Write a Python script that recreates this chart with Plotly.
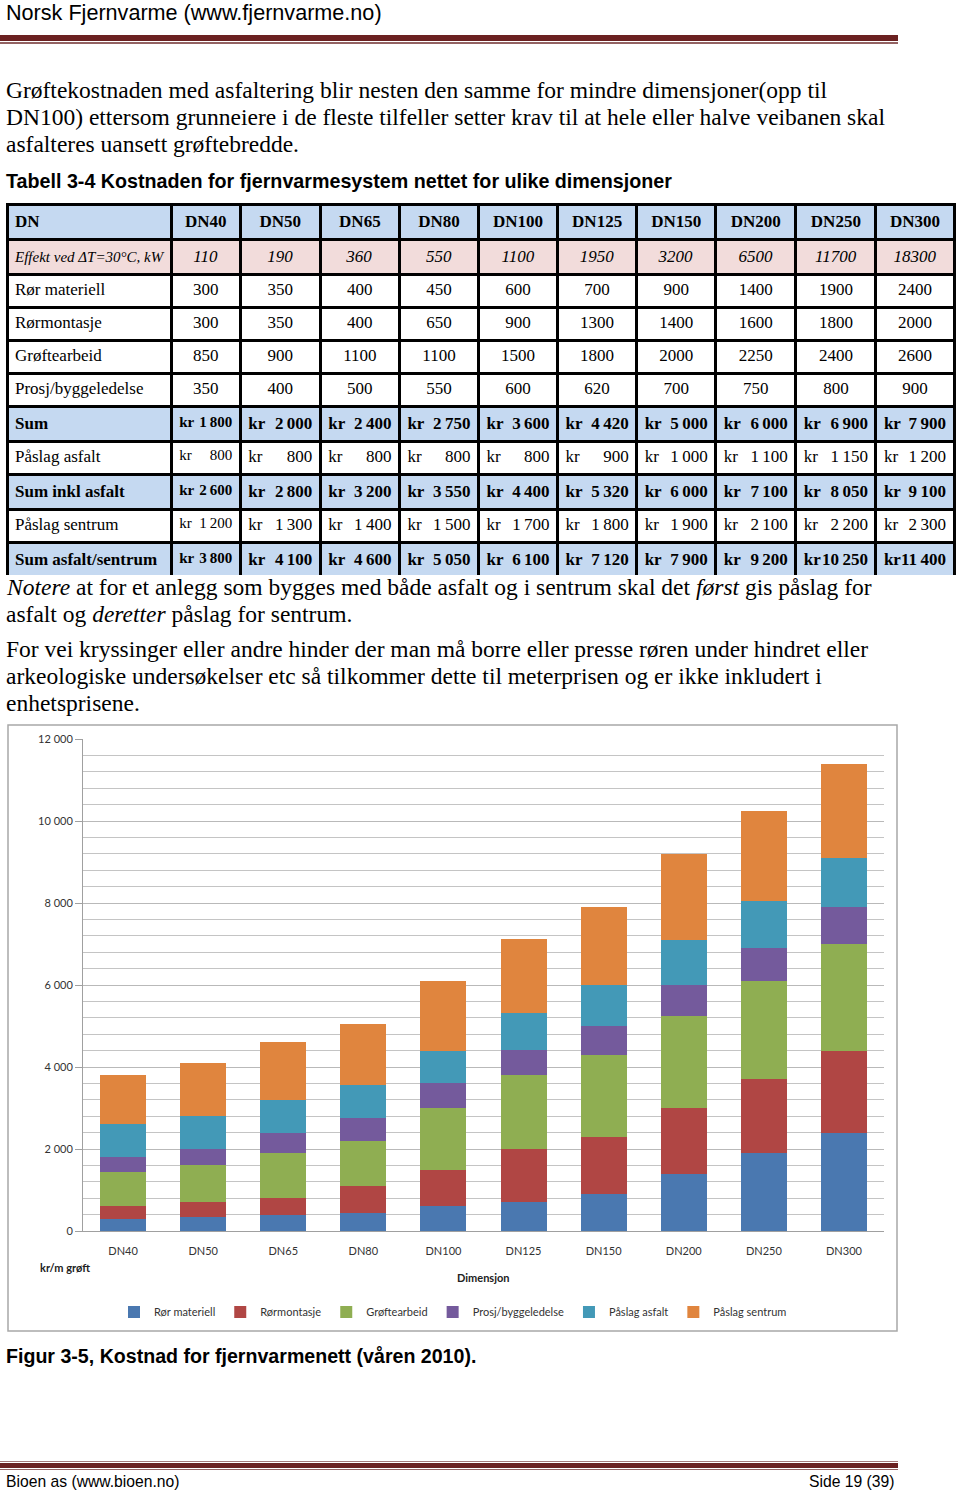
import plotly.graph_objects as go

W, H = 960, 1491

# ---------------- data ----------------
categories = ["DN40", "DN50", "DN65", "DN80", "DN100", "DN125", "DN150", "DN200", "DN250", "DN300"]
effekt_kw = [110, 190, 360, 550, 1100, 1950, 3200, 6500, 11700, 18300]
ror_materiell = [300, 350, 400, 450, 600, 700, 900, 1400, 1900, 2400]
rormontasje = [300, 350, 400, 650, 900, 1300, 1400, 1600, 1800, 2000]
groftearbeid = [850, 900, 1100, 1100, 1500, 1800, 2000, 2250, 2400, 2600]
prosj_byggeledelse = [350, 400, 500, 550, 600, 620, 700, 750, 800, 900]
sum_kr = [1800, 2000, 2400, 2750, 3600, 4420, 5000, 6000, 6900, 7900]
paslag_asfalt = [800, 800, 800, 800, 800, 900, 1000, 1100, 1150, 1200]
sum_inkl_asfalt = [2600, 2800, 3200, 3550, 4400, 5320, 6000, 7100, 8050, 9100]
paslag_sentrum = [1200, 1300, 1400, 1500, 1700, 1800, 1900, 2100, 2200, 2300]
sum_asfalt_sentrum = [3800, 4100, 4600, 5050, 6100, 7120, 7900, 9200, 10250, 11400]

series_names = ["Rør materiell", "Rørmontasje", "Grøftearbeid", "Prosj/byggeledelse",
                "Påslag asfalt", "Påslag sentrum"]
series_values = [ror_materiell, rormontasje, groftearbeid, prosj_byggeledelse,
                 paslag_asfalt, paslag_sentrum]
series_colors = ["#4a78b0", "#b04644", "#8fae52", "#745a9c", "#4399b7", "#e0853e"]

row_labels = ["Effekt ved ΔT=30°C, kW", "Rør materiell", "Rørmontasje", "Grøftearbeid",
              "Prosj/byggeledelse", "Sum", "Påslag asfalt", "Sum inkl asfalt",
              "Påslag sentrum", "Sum asfalt/sentrum"]
row_kinds = ["effekt", "plain", "plain", "plain", "plain", "sum", "kr", "sum", "kr", "sum"]
row_data = [effekt_kw, ror_materiell, rormontasje, groftearbeid, prosj_byggeledelse,
            sum_kr, paslag_asfalt, sum_inkl_asfalt, paslag_sentrum, sum_asfalt_sentrum]

yticks_major = 2000
yticks_minor = 400


def py(p):
    return 1 - p / H


def px(p):
    return p / W


NB = "\u00a0"


def nb(s):
    return s.replace(" ", NB)


def fmt_kr(v):
    return f"{v:,}".replace(",", "\u2009")


fig = go.Figure()

# ---------------- table ----------------
BLUE = "#c5d9f1"
PINK = "#f2dcdb"
CLEAR = "rgba(0,0,0,0)"
colw = [164, 69, 80, 79, 79, 79, 79, 79, 80, 80, 78]
fills_by_kind = {"effekt": PINK, "plain": "white", "sum": BLUE, "kr": "white"}
ncol = len(categories) + 1
nrow = len(row_kinds)
TAB_TOP, TAB_BOT = 204, 575
tab_domain = dict(x=[px(7), px(955)], y=[py(TAB_BOT), py(TAB_TOP)])
OVL_SHIFT = 5  # overlay text sits slightly higher; nudge it down
ovl_domain = dict(x=[px(7), px(955)], y=[py(TAB_BOT + OVL_SHIFT), py(TAB_TOP + OVL_SHIFT)])
TFONT = "Liberation Serif"
TSIZE = 17
col_sizes = [TSIZE, 15] + [TSIZE] * (ncol - 2)
HDR_H = 32
ROW_H = 33
LW = 3

main_cols = []
col0 = []
for lab, kind in zip(row_labels, row_kinds):
    t = nb(lab)
    if kind == "effekt":
        t = ""
    elif kind == "sum":
        t = "<b>" + t + "</b>"
    col0.append(t)
main_cols.append(col0)
for j in range(len(categories)):
    c = []
    for vals, kind in zip(row_data, row_kinds):
        v = vals[j]
        if kind == "effekt":
            c.append(f"<i>{v}</i>")
        elif kind == "plain":
            c.append(f"{v}")
        else:
            c.append("")
    main_cols.append(c)
fills = [[fills_by_kind[k] for k in row_kinds] for _ in range(ncol)]

header_vals = ["<b>DN</b>"] + [f"<b>{c}</b>" for c in categories]
fig.add_trace(go.Table(
    domain=tab_domain,
    columnwidth=colw,
    header=dict(values=header_vals, fill_color=BLUE, align=["left"] + ["center"] * 10,
                font=dict(family=TFONT, size=TSIZE, color="black"),
                height=HDR_H, line=dict(color="black", width=LW)),
    cells=dict(values=main_cols, fill_color=fills, align=["left"] + ["center"] * 10,
               font=dict(family=TFONT, size=TSIZE, color="black"),
               height=ROW_H, line=dict(color="black", width=LW)),
))

left_cols = [["<i>" + nb(row_labels[0]) + "</i>"] + [""] * (nrow - 1)]
for j in range(len(categories)):
    left_cols.append(["<b>kr</b>" if k == "sum" else ("kr" if k == "kr" else "")
                      for k in row_kinds])
fig.add_trace(go.Table(
    domain=ovl_domain,
    columnwidth=colw,
    header=dict(values=[""] * ncol, fill_color=CLEAR, height=HDR_H,
                font=dict(family=TFONT, size=TSIZE),
                line=dict(color=CLEAR, width=LW)),
    cells=dict(values=left_cols, fill_color=CLEAR, align="left",
               font=dict(family=TFONT, size=[15] + col_sizes[1:], color="black"),
               height=ROW_H, line=dict(color=CLEAR, width=LW)),
))

right_cols = [[""] * nrow]
for j in range(len(categories)):
    c = []
    for vals, kind in zip(row_data, row_kinds):
        v = vals[j]
        if kind == "sum":
            c.append(f"<b>{fmt_kr(v)}</b>")
        elif kind == "kr":
            c.append(fmt_kr(v))
        else:
            c.append("")
    right_cols.append(c)
fig.add_trace(go.Table(
    domain=ovl_domain,
    columnwidth=colw,
    header=dict(values=[""] * ncol, fill_color=CLEAR, height=HDR_H,
                font=dict(family=TFONT, size=TSIZE),
                line=dict(color=CLEAR, width=LW)),
    cells=dict(values=right_cols, fill_color=CLEAR, align="right",
               font=dict(family=TFONT, size=col_sizes, color="black"),
               height=ROW_H, line=dict(color=CLEAR, width=LW)),
))

# ---------------- bar chart ----------------
for name, vals, col in zip(series_names, series_values, series_colors):
    fig.add_trace(go.Bar(x=categories, y=vals, name=name, marker_color=col,
                         marker_line_width=0, xaxis="x", yaxis="y"))

CH_FONT = "Lato"
fig.update_layout(
    width=W, height=H, autosize=False,
    margin=dict(l=0, r=0, t=0, b=0),
    paper_bgcolor="white", plot_bgcolor="white",
    separators=", ",
    barmode="stack", bargap=0.425,
    showlegend=True,
    legend=dict(orientation="h", x=px(453), xanchor="center", y=py(1312), yanchor="middle",
                font=dict(family=CH_FONT, size=11, color="#333333"),
                itemwidth=30, traceorder="normal", bgcolor=CLEAR),
    xaxis=dict(domain=[px(83), px(884)], showline=True, linecolor="#a0a0a0", linewidth=1,
               ticks="", showgrid=False, ticklabelstandoff=10, automargin=False,
               tickfont=dict(family=CH_FONT, size=11, color="#333333"), fixedrange=True),
    yaxis=dict(domain=[py(1231), py(739)], range=[0, 12000], dtick=yticks_major,
               tickformat=",d", showline=True, linecolor="#a0a0a0", linewidth=1,
               ticks="outside", ticklen=7, tickcolor="#a0a0a0", automargin=False,
               showgrid=True, gridcolor="#b9b9b9", gridwidth=1, zeroline=False,
               minor=dict(dtick=yticks_minor, showgrid=True, gridcolor="#c4c4c4", gridwidth=1),
               tickfont=dict(family=CH_FONT, size=11, color="#333333"), fixedrange=True),
)

shapes = []
shapes.append(dict(type="rect", xref="paper", yref="paper", x0=px(8), x1=px(897),
                   y0=py(1331), y1=py(725), line=dict(color="#a8a8a8", width=1.5),
                   fillcolor=CLEAR, layer="below"))
shapes.append(dict(type="rect", xref="paper", yref="paper", x0=0, x1=px(898),
                   y0=py(41), y1=py(35), line=dict(width=0), fillcolor="#6b2121"))
shapes.append(dict(type="rect", xref="paper", yref="paper", x0=0, x1=px(898),
                   y0=py(44), y1=py(42), line=dict(width=0), fillcolor="#936262"))
shapes.append(dict(type="rect", xref="paper", yref="paper", x0=0, x1=px(898),
                   y0=py(1462), y1=py(1461), line=dict(width=0), fillcolor="#a57a7a"))
shapes.append(dict(type="rect", xref="paper", yref="paper", x0=0, x1=px(898),
                   y0=py(1468), y1=py(1463), line=dict(width=0), fillcolor="#6b2121"))
shapes.append(dict(type="rect", xref="paper", yref="paper", x0=0, x1=px(898),
                   y0=py(1470), y1=py(1469), line=dict(width=0), fillcolor="#936262"))
fig.update_layout(shapes=shapes)

SERIF = "Liberation Serif"
SANS = "Liberation Sans"
BODY = 23.5


def text(x, y, s, family, size, xanchor="left", color="black"):
    fig.add_annotation(xref="paper", yref="paper", x=px(x), y=py(y), text=s,
                       showarrow=False, xanchor=xanchor, yanchor="middle",
                       font=dict(family=family, size=size, color=color), align="left")


text(4, 12, "Norsk Fjernvarme (www.fjernvarme.no)", SANS, 21.6)
text(4, 90, "Grøftekostnaden med asfaltering blir nesten den samme for mindre dimensjoner(opp til", SERIF, BODY)
text(4, 117, "DN100) ettersom grunneiere i de fleste tilfeller setter krav til at hele eller halve veibanen skal", SERIF, BODY)
text(4, 144, "asfalteres uansett grøftebredde.", SERIF, BODY)
text(4, 181, "<b>Tabell 3-4 Kostnaden for fjernvarmesystem nettet for ulike dimensjoner</b>", SANS, 19.7)
text(4, 587, "<i>Notere</i> at for et anlegg som bygges med både asfalt og i sentrum skal det <i>først</i> gis påslag for", SERIF, BODY)
text(4, 614, "asfalt og <i>deretter</i> påslag for sentrum.", SERIF, BODY)
text(4, 649, "For vei kryssinger eller andre hinder der man må borre eller presse røren under hindret eller", SERIF, BODY)
text(4, 676, "arkeologiske undersøkelser etc så tilkommer dette til meterprisen og er ikke inkludert i", SERIF, BODY)
text(4, 703, "enhetsprisene.", SERIF, BODY)
text(4, 1356, "<b>Figur 3-5, Kostnad for fjernvarmenett (våren 2010).</b>", SANS, 19.6)
text(4, 1481, "Bioen as (www.bioen.no)", SANS, 15.7)
text(896, 1481, "Side 19 (39)", SANS, 15.7, xanchor="right")

text(38, 1267, "<b>kr/m grøft</b>", CH_FONT, 11, color="#222222")
text(483, 1277, "<b>Dimensjon</b>", CH_FONT, 11, xanchor="center", color="#222222")

fig.write_html("out.html",
               config={"displayModeBar": False},
               post_script="document.body.style.margin='0px';document.body.style.padding='0px';"
                           "document.documentElement.style.overflow='hidden';")
